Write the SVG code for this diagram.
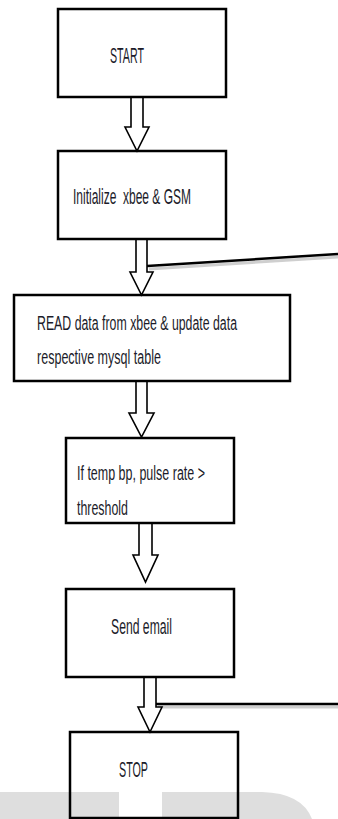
<svg xmlns="http://www.w3.org/2000/svg" width="338" height="819" viewBox="0 0 338 819">
<style>
.box{fill:none;stroke:#000;stroke-width:2.5}
.arrow{fill:#fff;stroke:#000;stroke-width:1.6;stroke-linejoin:miter}
.lbl{font-family:"Liberation Sans Narrow","Liberation Sans",Arial,sans-serif;font-size:13px;fill:#1c1c2a;white-space:pre}
.wm{fill:#dedede}
.shadow{stroke:#bbb;stroke-width:3;fill:none;opacity:0.7}
.line{stroke:#000;stroke-width:2.5;fill:none}
</style>
<rect x="0" y="0" width="338" height="819" fill="#fff"/>
<g id="watermark">
<rect class="wm" x="0" y="792" width="119" height="27"/>
<path class="wm" d="M162,792 H262 Q302,793 312,819 H162 Z"/>
</g>
<g id="connectors">
<path class="arrow" d="M131,97 V127 H125 L137,151 L149,127 H143 V97"/>
<path class="shadow" d="M149,269 L338,257"/>
<path class="line" d="M147,266 L338,254"/>
<path class="arrow" d="M136,239 V272 H130 L141.5,295 L153,272 H147 V239"/>
<path class="arrow" d="M136,381 V413 H129 L141.5,437 L154,413 H147 V381"/>
<path class="arrow" d="M139,523 V555 H133 L145.5,582 L158,555 H152 V523"/>
<path class="shadow" d="M158,707 H338"/>
<path class="line" d="M156,704 H338"/>
<path class="arrow" d="M144,677 V707 H138 L150,732 L162,707 H156 V677"/>
</g>
<g id="start">
<rect class="box" x="58" y="9" width="168" height="88"/>
<text class="lbl" transform="translate(110,63) scale(1,1.75)" textLength="34" lengthAdjust="spacingAndGlyphs">START</text>
</g>
<g id="init">
<rect class="box" x="58" y="151" width="168" height="88"/>
<text class="lbl" xml:space="preserve" transform="translate(73,204) scale(1,1.7)" textLength="118" lengthAdjust="spacingAndGlyphs">Initialize  xbee &amp; GSM</text>
</g>
<g id="read">
<rect class="box" x="14" y="295" width="276" height="86"/>
<text class="lbl" transform="translate(37,330) scale(1,1.62)" textLength="200" lengthAdjust="spacingAndGlyphs">READ data from xbee &amp; update data</text>
<text class="lbl" transform="translate(37,364) scale(1,1.62)" textLength="124" lengthAdjust="spacingAndGlyphs">respective mysql table</text>
</g>
<g id="check">
<rect class="box" x="66" y="438" width="168" height="85"/>
<text class="lbl" transform="translate(77,480) scale(1,1.62)" textLength="128" lengthAdjust="spacingAndGlyphs">If temp bp, pulse rate &gt;</text>
<text class="lbl" transform="translate(77,515) scale(1,1.62)" textLength="51" lengthAdjust="spacingAndGlyphs">threshold</text>
</g>
<g id="send">
<rect class="box" x="66" y="589" width="168" height="88"/>
<text class="lbl" transform="translate(111,634) scale(1,1.75)" textLength="61" lengthAdjust="spacingAndGlyphs">Send email</text>
</g>
<g id="stop">
<rect class="box" x="70" y="732" width="168" height="86"/>
<text class="lbl" transform="translate(119,777) scale(1,1.75)" textLength="29" lengthAdjust="spacingAndGlyphs">STOP</text>
</g>
</svg>
